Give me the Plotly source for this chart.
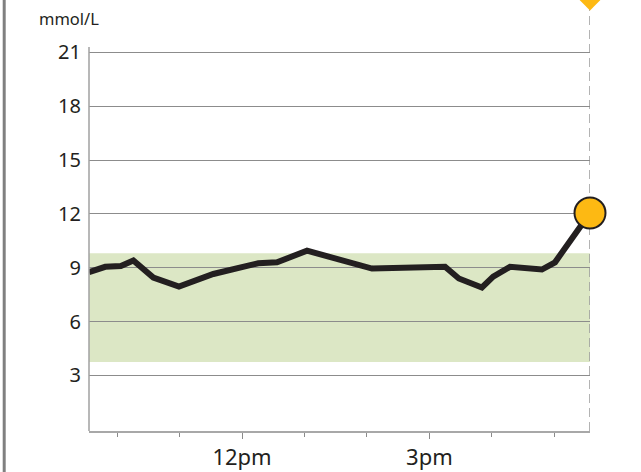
import plotly.graph_objects as go

# Data (hours of day, glucose mmol/L)
times = [9.55, 9.81, 10.06, 10.26, 10.58, 10.99, 11.54, 11.97, 12.26, 12.56,
         13.04, 14.08, 15.25, 15.47, 15.84, 16.02, 16.29, 16.80, 17.01, 17.57]
values = [8.75, 9.05, 9.1, 9.4, 8.45, 7.95, 8.65, 9.0, 9.25, 9.3,
          9.95, 8.95, 9.05, 8.4, 7.9, 8.5, 9.05, 8.9, 9.3, 12.05]
target_low = 3.75
target_high = 9.8
y_ticks = [3, 6, 9, 12, 15, 18, 21]
x_major = [12, 15]
x_major_labels = ["12pm", "3pm"]
unit_label = "mmol/L"

x_min, x_max = 9.55, 17.57
y_min, y_axis_top, y_max = -0.1, 21.3, 23.92

W, H = 641, 472
ML, MR, MT, MB = 89, 51, 0, 41
plot_w = W - ML - MR
plot_h = H - MT - MB

fig = go.Figure()

# glucose line
fig.add_trace(go.Scatter(
    x=times, y=values, mode="lines",
    line=dict(color="#231f20", width=6),
    hoverinfo="skip", showlegend=False))

# current reading marker
fig.add_trace(go.Scatter(
    x=[times[-1]], y=[values[-1]], mode="markers",
    marker=dict(size=31, color="#fdb913", line=dict(color="#231f20", width=2)),
    cliponaxis=False, showlegend=False, hoverinfo="skip"))

# diamond at top of "now" line
fig.add_trace(go.Scatter(
    x=[times[-1]], y=[y_max], mode="markers",
    marker=dict(size=16, symbol="diamond", color="#fdb913", line=dict(width=0)),
    cliponaxis=False, showlegend=False, hoverinfo="skip"))

shapes = [
    # target band
    dict(type="rect", xref="x domain", yref="y", x0=0, x1=1,
         y0=target_low, y1=target_high, fillcolor="#dce7c5",
         line=dict(width=0), layer="below"),
    # y axis line
    dict(type="line", xref="x domain", yref="y", x0=0, x1=0,
         y0=y_min, y1=y_axis_top, line=dict(color="#a0a0a0", width=1.5)),
    # now dashed line
    dict(type="line", xref="x", yref="y", x0=times[-1], x1=times[-1],
         y0=y_min, y1=y_max, line=dict(color="#9a9a9a", width=1.5, dash="9px,5px"),
         layer="below"),
    # left gray bar
    dict(type="line", xref="paper", yref="paper",
         x0=(4.2 - ML) / plot_w, x1=(4.2 - ML) / plot_w,
         y0=-MB / plot_h, y1=1.0, line=dict(color="#808080", width=3)),
]

fig.update_layout(
    width=W, height=H,
    margin=dict(l=ML, r=MR, t=MT, b=MB),
    paper_bgcolor="white", plot_bgcolor="white",
    font=dict(family="Noto Sans", color="#231f20"),
    shapes=shapes,
    annotations=[dict(
        text=unit_label, xref="paper", yref="paper",
        x=(37 - ML) / plot_w, y=1 - 18 / plot_h,
        xanchor="left", yanchor="middle", showarrow=False,
        font=dict(size=16.5, color="#231f20", family="Noto Sans"))],
    xaxis=dict(
        range=[x_min, x_max], showgrid=False, zeroline=False,
        showline=True, linecolor="#a8a8a8", linewidth=2,
        tickmode="array", tickvals=x_major, ticktext=x_major_labels,
        ticks="outside", ticklen=6, tickwidth=1, tickcolor="#8a8a8a",
        ticklabelstandoff=0,
        tickfont=dict(size=22, family="Noto Sans", color="#231f20"),
        minor=dict(tickmode="linear", tick0=10, dtick=1, ticks="outside",
                   ticklen=4, tickwidth=1, tickcolor="#8a8a8a", showgrid=False),
        fixedrange=True),
    yaxis=dict(
        range=[y_min, y_max], showgrid=True, gridcolor="#8c8c8c", gridwidth=1,
        zeroline=False, showline=False,
        tickmode="array", tickvals=y_ticks,
        ticks="", ticklabelstandoff=7,
        tickfont=dict(size=20, family="Noto Sans", color="#231f20"),
        fixedrange=True),
)

fig.write_html(
    "out.html",
    config={"displayModeBar": False},
    post_script="document.body.style.margin='0';document.body.style.overflow='hidden';",
)
